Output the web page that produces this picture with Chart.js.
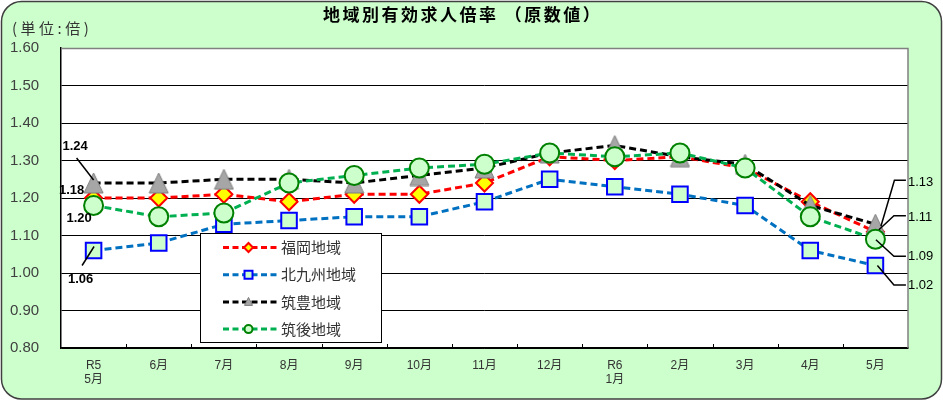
<!DOCTYPE html>
<html><head><meta charset="utf-8">
<script src="https://cdn.jsdelivr.net/npm/chart.js@4.4.1/dist/chart.umd.min.js"></script>
<style>html,body{margin:0;padding:0;background:#fff;}canvas{display:block;}</style>
</head><body>
<canvas id="c" width="943" height="401"></canvas>
<script>
// ---- data ----
const categories = [['R5','5月'],'6月','7月','8月','9月','10月','11月','12月',['R6','1月'],'2月','3月','4月','5月'];
const seriesNames = ['福岡地域','北九州地域','筑豊地域','筑後地域'];
const fukuoka    = [1.20,1.20,1.21,1.19,1.21,1.21,1.24,1.31,1.30,1.31,1.28,1.19,1.11];
const kitakyushu = [1.06,1.08,1.13,1.14,1.15,1.15,1.19,1.25,1.23,1.21,1.18,1.06,1.02];
const chikuho    = [1.24,1.24,1.25,1.25,1.24,1.26,1.28,1.32,1.34,1.31,1.29,1.18,1.13];
const chikugo    = [1.18,1.15,1.16,1.24,1.26,1.28,1.29,1.32,1.31,1.32,1.28,1.15,1.09];
const yMin = 0.80, yMax = 1.60, yStep = 0.10;
const chartTitle = '地域別有効求人倍率 （原数値）';
const unitLabel = '(単位:倍)';

// value labels: which series/point, offsets relative to the point (styling only)
const labelSpecs = [
  {ds:2, i:0,  t:[-18.5,-36.6], lead:[[0,-3],[-17,-25]], align:'center', bold:true},
  {ds:3, i:0,  t:[-22,-15],     lead:null, align:'center', bold:true},
  {ds:0, i:0,  t:[-14.5,20],    lead:null, align:'center', bold:true},
  {ds:1, i:0,  t:[-13,29],      lead:[[0.5,-4],[-11.5,15]], align:'center', bold:true},
  {ds:2, i:12, t:[32.5,-42],    lead:[[5.5,2],[19,-44],[30.5,-44]], align:'left'},
  {ds:0, i:12, t:[32.5,-14.8],  lead:[[3.5,-2],[18.5,-16],[30.5,-16]], align:'left'},
  {ds:3, i:12, t:[32.5,17],     lead:[[0.5,0.5],[18.5,17],[30.5,17]], align:'left'},
  {ds:1, i:12, t:[32.5,20.2],   lead:[[2,0],[18.5,19.6],[30.5,19.6]], align:'left'}
];

const FONT = '"Liberation Sans","Noto Sans CJK JP",sans-serif';
const CJK = '"Noto Sans CJK JP","Liberation Sans",sans-serif';

function triangleMarker(w,h,fill,stroke){
  const c=document.createElement('canvas'); c.width=w+2; c.height=h+2;
  const g=c.getContext('2d');
  g.beginPath(); g.moveTo((w+2)/2,1); g.lineTo(w+1,h+1); g.lineTo(1,h+1); g.closePath();
  g.fillStyle=fill; g.fill(); g.strokeStyle=stroke; g.lineWidth=1; g.stroke();
  return c;
}
const triBig = triangleMarker(19,20,'#A6A6A6','#7F7F7F');

const styles = [
  {color:'#FF0000', pointStyle:'rectRot', r:8.5, bg:'#FFFF00', bc:'#FF0000', bw:2, order:3},
  {color:'#0070C0', pointStyle:'rect', r:11, bg:'#CCFFCC', bc:'#0000FF', bw:2, order:2},
  {color:'#000000', pointStyle:triBig, r:10, bg:'#A6A6A6', bc:'#7F7F7F', bw:1, order:1},
  {color:'#00B050', pointStyle:'circle', r:9.5, bg:'#CCFFCC', bc:'#008000', bw:2, order:0}
];
const seriesData = [fukuoka, kitakyushu, chikuho, chikugo];

const bgPlugin = {
  id:'bg',
  beforeDraw(chart){
    const ctx=chart.ctx, a=chart.chartArea;
    ctx.save();
    ctx.fillStyle='#fff'; ctx.fillRect(0,0,chart.width,chart.height);
    ctx.beginPath(); ctx.roundRect(1.5,1.5,940,397.5,20);
    ctx.fillStyle='#CCFFCC'; ctx.fill();
    ctx.lineWidth=1.5; ctx.strokeStyle='#404040'; ctx.stroke();
    ctx.fillStyle='#fff'; ctx.fillRect(a.left,a.top,a.right-a.left,a.bottom-a.top);
    // title
    ctx.fillStyle='#000'; ctx.textBaseline='middle'; ctx.textAlign='left';
    ctx.font='bold 17px '+CJK; ctx.letterSpacing='2.5px';
    ctx.fillText(chartTitle,323,15);
    ctx.font='15px '+CJK; ctx.letterSpacing='3.5px'; ctx.fillStyle='#333';
    ctx.fillText(unitLabel,12,28);
    ctx.letterSpacing='0px';
    ctx.restore();
  },
  beforeDatasetsDraw(chart){
    const ctx=chart.ctx, a=chart.chartArea, xs=chart.scales.x;
    ctx.save();
    ctx.strokeStyle='#808080'; ctx.lineWidth=1.5;
    ctx.beginPath(); ctx.moveTo(a.left,a.top+0.5); ctx.lineTo(a.right,a.top+0.5); ctx.lineTo(a.right,a.bottom); ctx.stroke();
    ctx.strokeStyle='#000'; ctx.lineWidth=1;
    for(let i=1;i<categories.length;i++){
      const x=Math.round((xs.getPixelForValue(i-1)+xs.getPixelForValue(i))/2)+0.5;
      ctx.beginPath(); ctx.moveTo(x,a.bottom-4); ctx.lineTo(x,a.bottom); ctx.stroke();
    }
    ctx.restore();
  },
  afterDraw(chart){
    const ctx=chart.ctx;
    ctx.save();
    // value labels
    labelSpecs.forEach(s=>{
      const el=chart.getDatasetMeta(s.ds).data[s.i];
      const px=el.x, py=el.y;
      if(s.lead){
        ctx.beginPath(); ctx.strokeStyle='#000'; ctx.lineWidth=1.5;
        s.lead.forEach((p,k)=>{ if(k===0) ctx.moveTo(px+p[0],py+p[1]); else ctx.lineTo(px+p[0],py+p[1]); });
        ctx.stroke();
      }
      ctx.fillStyle='#000'; ctx.textAlign=s.align; ctx.textBaseline='middle';
      ctx.font=(s.bold?'bold ':'')+'13px '+FONT;
      ctx.fillText(seriesData[s.ds][s.i].toFixed(2),px+s.t[0],py+s.t[1]);
    });
    // legend
    const L=200.5,T=233.5,W=181,H=109;
    ctx.fillStyle='#fff'; ctx.fillRect(L,T,W,H);
    ctx.strokeStyle='#000'; ctx.lineWidth=1; ctx.strokeRect(L,T,W,H);
    seriesNames.forEach((name,i)=>{
      const y=247.5+i*27.2, st=styles[i];
      ctx.save();
      ctx.strokeStyle=st.color; ctx.lineWidth=3; ctx.setLineDash([6,3.5]);
      ctx.beginPath(); ctx.moveTo(223,y); ctx.lineTo(277,y); ctx.stroke();
      ctx.restore();
      const mx=248.5;
      ctx.beginPath();
      if(i===0){ ctx.moveTo(mx,y-4.5); ctx.lineTo(mx+4.5,y); ctx.lineTo(mx,y+4.5); ctx.lineTo(mx-4.5,y); ctx.closePath(); }
      else if(i===1){ ctx.rect(mx-4,y-4,8,8); }
      else if(i===2){ ctx.moveTo(mx,y-4.5); ctx.lineTo(mx+4,y+3.5); ctx.lineTo(mx-4,y+3.5); ctx.closePath(); }
      else { ctx.arc(mx,y,4,0,Math.PI*2); }
      ctx.fillStyle=st.bg; ctx.fill();
      ctx.lineWidth=i===2?1:2; ctx.strokeStyle=st.bc; ctx.stroke();
      ctx.fillStyle='#333'; ctx.font='15px '+CJK; ctx.textAlign='left'; ctx.textBaseline='middle';
      ctx.fillText(name,281,y);
    });
    ctx.restore();
  }
};

new Chart(document.getElementById('c'), {
  type:'line',
  data:{
    labels:categories,
    datasets: seriesNames.map((n,i)=>({
      label:n, data:seriesData[i],
      borderColor:styles[i].color, borderWidth:3, borderDash:[7,4],
      pointStyle:styles[i].pointStyle, pointRadius:styles[i].r,
      pointBackgroundColor:styles[i].bg, pointBorderColor:styles[i].bc, pointBorderWidth:styles[i].bw,
      tension:0, fill:false, order:styles[i].order, clip:false
    }))
  },
  options:{
    responsive:false, animation:false, events:[], devicePixelRatio:1,
    layout:{padding:{left:10,right:35,top:48,bottom:0}},
    plugins:{legend:{display:false}, title:{display:false}, tooltip:{enabled:false}},
    scales:{
      x:{
        offset:true,
        grid:{display:false, drawTicks:false},
        border:{display:true, color:'#000', width:1.5},
        ticks:{font:{size:12,family:FONT,lineHeight:1.2}, color:'#333', padding:10, maxRotation:0, autoSkip:false},
        afterFit(s){ s.height=53; }
      },
      y:{
        min:yMin, max:yMax,
        grid:{drawTicks:false, color:(c)=> (c.tick && Math.abs(c.tick.value-yMax)<1e-6) ? 'rgba(0,0,0,0)' : '#000', lineWidth:1},
        border:{display:true, color:'#000', width:1.5},
        ticks:{stepSize:yStep, callback:(v)=>Number(v).toFixed(2), font:{size:15,family:FONT}, color:'#404040', crossAlign:'far', padding:0},
        afterFit(s){ s.width=51; }
      }
    }
  },
  plugins:[bgPlugin]
});
</script>
</body></html>
